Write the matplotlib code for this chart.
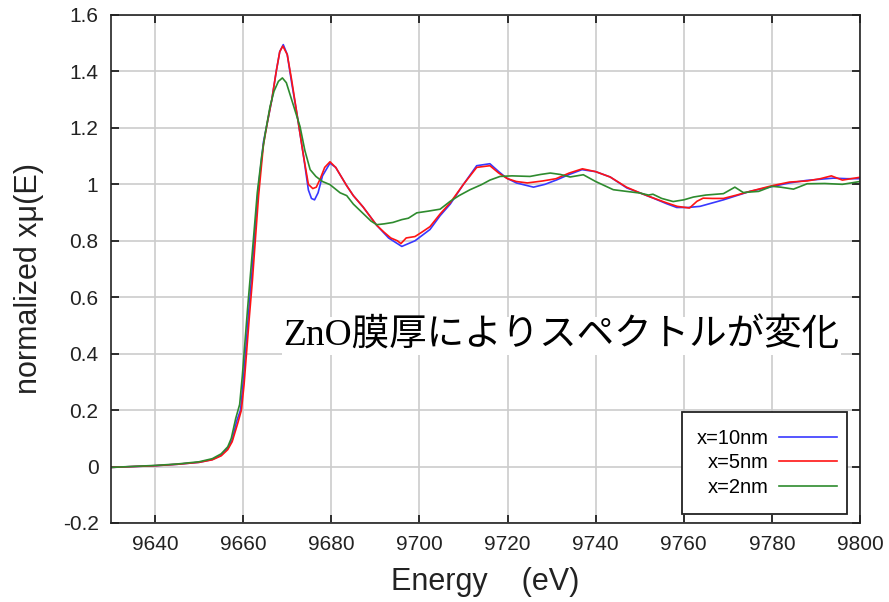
import matplotlib
matplotlib.use("Agg")
import matplotlib.pyplot as plt
from matplotlib.patches import Rectangle

# ---------------- data ----------------
E_10 = [9630, 9640, 9645, 9650, 9653, 9655, 9656.5, 9657.5, 9658.5, 9659.4, 9660, 9660.6, 9661.2,
        9661.9, 9662.5, 9663.4, 9664.6, 9665.5, 9666.5, 9667.5, 9668.3, 9669.1, 9670, 9671, 9672.2,
        9673.7, 9674.8, 9675.5, 9676.2, 9677, 9678, 9679.7, 9681, 9683.5, 9685, 9687.2, 9690.3,
        9693, 9696, 9699, 9702.4, 9704.7, 9707, 9710, 9713, 9716, 9718, 9719.8, 9722, 9725.9,
        9728.5, 9731.2, 9734, 9736.9, 9740, 9743.3, 9747.1, 9750, 9753.1, 9756, 9758.4, 9761,
        9763.7, 9766, 9769, 9772, 9775, 9780.3, 9784, 9787.9, 9791, 9794, 9797, 9800]
mu_10 = [-0.003, 0.003, 0.008, 0.015, 0.025, 0.04, 0.065, 0.094, 0.16, 0.2, 0.30, 0.42, 0.54,
         0.67, 0.80, 0.98, 1.15, 1.22, 1.30, 1.40, 1.47, 1.495, 1.46, 1.36, 1.25,
         1.10, 0.98, 0.95, 0.945, 0.97, 1.03, 1.075, 1.06, 0.995, 0.96, 0.92, 0.855,
         0.81, 0.78, 0.80, 0.84, 0.889, 0.93, 1.00, 1.066, 1.073, 1.045, 1.022, 1.005, 0.99,
         1.0, 1.016, 1.035, 1.052, 1.045, 1.026, 0.987, 0.97, 0.951, 0.932, 0.918, 0.918,
         0.922, 0.932, 0.945, 0.96, 0.975, 0.993, 1.005, 1.014, 1.018, 1.022, 1.02, 1.02]

E_5 = [9630, 9640, 9645, 9650, 9653, 9655, 9656.5, 9657.5, 9658.7, 9659.6, 9660.2, 9660.8, 9661.4,
       9662.1, 9662.7, 9663.5, 9664.6, 9665.5, 9666.5, 9667.5, 9668.3, 9669, 9670, 9671, 9672.2,
       9673.7, 9674.8, 9675.8, 9676.6, 9677.5, 9678.5, 9679.7, 9681, 9683.5, 9685, 9687.2, 9690.3,
       9692, 9693.5, 9695, 9695.8, 9697, 9699, 9700.5, 9702.4, 9704.7, 9707, 9710, 9713, 9716,
       9718, 9720, 9722, 9724.5, 9728, 9731, 9734, 9737, 9740, 9743.3, 9747, 9750, 9753, 9756,
       9758.5, 9761.3, 9763, 9764.4, 9766.5, 9769, 9772, 9775, 9780, 9784, 9788, 9791, 9793.5,
       9796, 9800]
mu_5 = [-0.003, 0.003, 0.008, 0.015, 0.024, 0.038, 0.06, 0.088, 0.15, 0.2, 0.29, 0.41, 0.53,
        0.66, 0.79, 0.96, 1.14, 1.22, 1.30, 1.40, 1.47, 1.49, 1.46, 1.37, 1.25,
        1.10, 1.00, 0.985, 0.99, 1.02, 1.06, 1.08, 1.06, 0.995, 0.96, 0.92, 0.855,
        0.83, 0.81, 0.80, 0.79, 0.81, 0.815, 0.83, 0.85, 0.895, 0.935, 1.00, 1.06, 1.066,
        1.04, 1.02, 1.01, 1.005, 1.012, 1.02, 1.04, 1.055, 1.045, 1.026, 0.99, 0.97, 0.952, 0.935,
        0.922, 0.916, 0.94, 0.951, 0.95, 0.95, 0.962, 0.975, 0.995, 1.008, 1.012, 1.02, 1.03,
        1.015, 1.025]

E_2 = [9630, 9640, 9645, 9650, 9653, 9655, 9656.5, 9657.3, 9658.3, 9659.2, 9659.8, 9660.4, 9661,
       9661.7, 9662.4, 9663.2, 9664.2, 9665, 9666.1, 9667, 9668, 9668.9, 9669.8, 9671, 9672.2,
       9672.9, 9674, 9675.2, 9676.5, 9678, 9679.7, 9682, 9683.5, 9685, 9687, 9689, 9690.3,
       9692, 9694, 9696, 9697.5, 9699.4, 9702, 9704.7, 9707, 9709, 9711.5, 9714.1, 9716, 9718.3,
       9721, 9725.1, 9727.5, 9729.7, 9732, 9734.2, 9737.2, 9740, 9744, 9747, 9750.1, 9752, 9753,
       9755, 9757.6, 9760, 9762.2, 9765, 9769, 9771.6, 9773.5, 9777, 9780, 9782, 9784.9, 9788,
       9792, 9796, 9800]
mu_2 = [-0.003, 0.004, 0.009, 0.017, 0.028, 0.045, 0.07, 0.1, 0.17, 0.22, 0.32, 0.44, 0.56,
        0.69, 0.82, 0.97, 1.10, 1.18, 1.276, 1.33, 1.365, 1.377, 1.36, 1.30, 1.24,
        1.205, 1.12, 1.052, 1.028, 1.01, 0.999, 0.97, 0.96, 0.93, 0.90, 0.87, 0.857,
        0.86, 0.865, 0.875, 0.88, 0.899, 0.905, 0.912, 0.94, 0.96, 0.981, 0.999, 1.015, 1.028,
        1.03, 1.028, 1.035, 1.04, 1.035, 1.026, 1.034, 1.01, 0.981, 0.975, 0.969, 0.962, 0.965,
        0.95, 0.939, 0.945, 0.955, 0.962, 0.967, 0.99, 0.971, 0.975, 0.993, 0.99, 0.983, 1.002,
        1.003, 1.0, 1.01]

labels = ["x=10nm", "x=5nm", "x=2nm"]
colors = ["#3838ff", "#ff1414", "#2e8b2e"]
x_ticks = [9640, 9660, 9680, 9700, 9720, 9740, 9760, 9780, 9800]
y_ticks = [-0.2, 0, 0.2, 0.4, 0.6, 0.8, 1.0, 1.2, 1.4, 1.6]
y_ticklabels = ["-0.2", "0", "0.2", "0.4", "0.6", "0.8", "1", "1.2", "1.4", "1.6"]
annotation = "ZnO膜厚によりスペクトルが変化"

# ---------------- figure ----------------
plt.rcParams['font.family'] = ['Liberation Sans', 'DejaVu Sans']
fig = plt.figure(figsize=(8.89, 6.02), dpi=100)
ax = fig.add_axes([111/889, 1-523/602, 749/889, 508/602])

for E, mu, lab, c in zip([E_10, E_5, E_2], [mu_10, mu_5, mu_2], labels, colors):
    ax.plot(E, mu, color=c, lw=1.2, label=lab)

ax.set_xlim(9630, 9800)
ax.set_ylim(-0.2, 1.6)
ax.set_xticks(x_ticks)
ax.set_yticks(y_ticks)
ax.set_yticklabels(y_ticklabels)
ax.grid(True, color="#cccccc", lw=1.2)
ax.set_axisbelow(True)
ax.tick_params(direction="in", length=6, width=1.1, top=True, right=True,
               labelsize=15, pad=9, colors="black", labelcolor="#222222")
for s in ax.spines.values():
    s.set_linewidth(1.2)
    s.set_color("#222222")

ax.set_xlabel("Energy    (eV)", fontsize=22, labelpad=9, color="#222222")
ax.set_ylabel("normalized xμ(E)", fontsize=22, color="#222222")
ax.yaxis.set_label_coords((44-111)/749, (523-279)/508)

ax.text((283-111)/749, (523-336)/508, annotation, transform=ax.transAxes,
        ha="left", va="center", fontsize=27,
        family=["Liberation Serif", "Noto Sans CJK JP"],
        bbox=dict(facecolor="white", edgecolor="none", pad=1))

# legend frame (square, black) and legend entries (text right-aligned, line after text)
frame = Rectangle(((682-111)/749, (523-514)/508), 165/749, 102/508, transform=ax.transAxes,
                  facecolor="white", edgecolor="#222222", lw=1.3, zorder=4)
ax.add_patch(frame)
leg = ax.legend(loc="center right", bbox_to_anchor=((837-111)/749, (523-463)/508),
                borderaxespad=0, borderpad=0, markerfirst=False, frameon=False,
                fontsize=14.5, handlelength=2.9, handletextpad=0.5, labelspacing=0.28)
leg.set_zorder(5)

fig.savefig("out.png", dpi=100)
